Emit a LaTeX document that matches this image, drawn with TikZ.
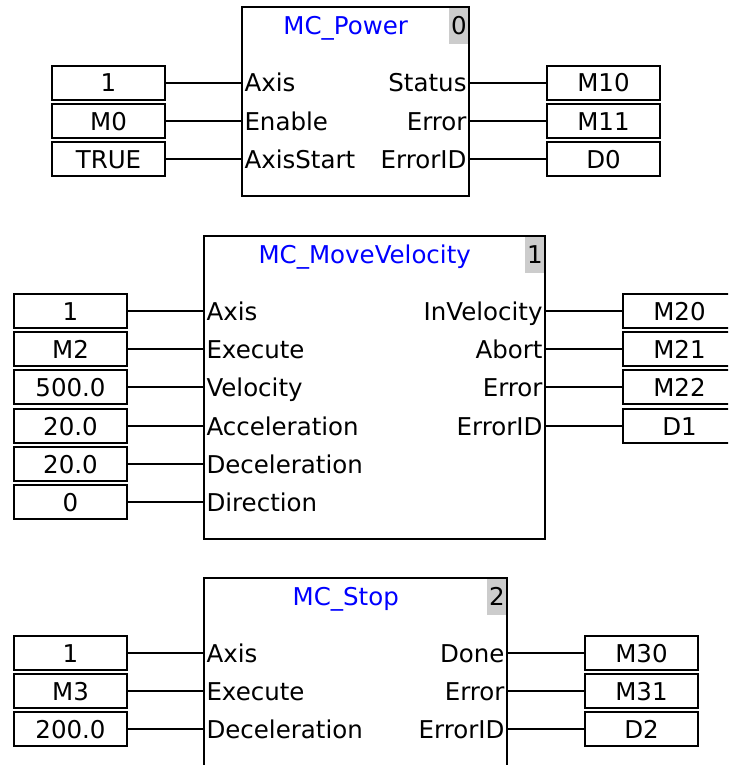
\documentclass[tikz,border=0pt]{standalone}
\usepackage{fontspec}
\setmainfont{DejaVu Sans}
\usetikzlibrary{calc,positioning}
\tikzset{
  fbframe/.style = {draw, line width=1.2pt, inner sep=0pt, outer sep=0pt},
  fbindex/.style = {fill=gray!40, anchor=north east, minimum width=19pt,
                    minimum height=36pt, inner sep=0.5pt, outer sep=0pt,
                    text height=18pt, text depth=0pt},
  fbname/.style  = {text=blue, inner sep=0pt, text height=18pt, text depth=0pt},
  pinin/.style   = {anchor=west, inner xsep=2.5pt, inner ysep=0pt, outer sep=0pt,
                    text height=18pt, text depth=0pt},
  pinout/.style  = {anchor=east, inner xsep=2.5pt, inner ysep=0pt, outer sep=0pt,
                    text height=18pt, text depth=0pt},
  valbox/.style  = {draw, line width=1.2pt, minimum width=113pt, minimum height=34pt,
                    inner sep=0pt, outer sep=0pt, text height=18pt, text depth=0pt},
  wire/.style    = {line width=1.2pt}
}

\begin{document}
\begin{tikzpicture}[x=1pt,y=-1pt,font=\fontsize{24.5}{28}\selectfont]
  \clip (0,0) rectangle (728,765);
  % MC_Power
  \node[fbframe,minimum width=227pt,minimum height=189pt] (pwr) at (355.5,101.5) {};
  \node[fbindex] (pwridx) at ([shift={(-0.6pt,-0.6pt)}]pwr.north east) {0};
  \node[fbname] (pwrname) at ($(pwr.north west)!0.5!(pwridx.south west)$) {MC\_Power};
  \node[pinin] (pwrax) at (242,83) {Axis};
  \node[pinin] (pwren) at (242,121) {Enable};
  \node[pinin] (pwras) at (242,159) {AxisStart};
  \node[pinout] (pwrst) at (469,83) {Status};
  \node[pinout] (pwrer) at (469,121) {Error};
  \node[pinout] (pwrid) at (469,159) {ErrorID};
  \node[valbox,left=77pt of pwrax] (pwrv1) {1};
  \node[valbox,left=77pt of pwren] (pwrv2) {M0};
  \node[valbox,left=77pt of pwras] (pwrv3) {TRUE};
  \node[valbox,right=78pt of pwrst] (pwrv4) {M10};
  \node[valbox,right=78pt of pwrer] (pwrv5) {M11};
  \node[valbox,right=78pt of pwrid] (pwrv6) {D0};
  \draw[wire] (pwrv1) -- (pwrax) (pwrv2) -- (pwren) (pwrv3) -- (pwras);
  \draw[wire] (pwrst) -- (pwrv4) (pwrer) -- (pwrv5) (pwrid) -- (pwrv6);

  % MC_MoveVelocity
  \node[fbframe,minimum width=341pt,minimum height=303pt] (mvel) at (374.5,387.5) {};
  \node[fbindex] (mvelidx) at ([shift={(-0.6pt,-0.6pt)}]mvel.north east) {1};
  \node[fbname] (mvelname) at ($(mvel.north west)!0.5!(mvelidx.south west)$) {MC\_MoveVelocity};
  \node[pinin] (mvelax) at (204,311) {Axis};
  \node[pinin] (mvelex) at (204,349) {Execute};
  \node[pinin] (mvelve) at (204,387) {Velocity};
  \node[pinin] (mvelac) at (204,426) {Acceleration};
  \node[pinin] (mvelde) at (204,464) {Deceleration};
  \node[pinin] (mveldi) at (204,502) {Direction};
  \node[pinout] (mvelin) at (545,311) {InVelocity};
  \node[pinout] (mvelab) at (545,349) {Abort};
  \node[pinout] (mveler) at (545,387) {Error};
  \node[pinout] (mvelid) at (545,426) {ErrorID};
  \node[valbox,left=77pt of mvelax] (mvelv1) {1};
  \node[valbox,left=77pt of mvelex] (mvelv2) {M2};
  \node[valbox,left=77pt of mvelve] (mvelv3) {500.0};
  \node[valbox,left=77pt of mvelac] (mvelv4) {20.0};
  \node[valbox,left=77pt of mvelde] (mvelv5) {20.0};
  \node[valbox,left=77pt of mveldi] (mvelv6) {0};
  \node[valbox,right=78pt of mvelin] (mvelv7) {M20};
  \node[valbox,right=78pt of mvelab] (mvelv8) {M21};
  \node[valbox,right=78pt of mveler] (mvelv9) {M22};
  \node[valbox,right=78pt of mvelid] (mvelv10) {D1};
  \draw[wire] (mvelv1) -- (mvelax) (mvelv2) -- (mvelex) (mvelv3) -- (mvelve)
              (mvelv4) -- (mvelac) (mvelv5) -- (mvelde) (mvelv6) -- (mveldi);
  \draw[wire] (mvelin) -- (mvelv7) (mvelab) -- (mvelv8) (mveler) -- (mvelv9)
              (mvelid) -- (mvelv10);

  % MC_Stop
  \node[fbframe,minimum width=303pt,minimum height=222pt] (stp) at (355.5,689) {};
  \node[fbindex] (stpidx) at ([shift={(-0.6pt,-0.6pt)}]stp.north east) {2};
  \node[fbname] (stpname) at ($(stp.north west)!0.5!(stpidx.south west)$) {MC\_Stop};
  \node[pinin] (stpax) at (204,653) {Axis};
  \node[pinin] (stpex) at (204,691) {Execute};
  \node[pinin] (stpde) at (204,729) {Deceleration};
  \node[pinout] (stpdo) at (507,653) {Done};
  \node[pinout] (stper) at (507,691) {Error};
  \node[pinout] (stpid) at (507,729) {ErrorID};
  \node[valbox,left=77pt of stpax] (stpv1) {1};
  \node[valbox,left=77pt of stpex] (stpv2) {M3};
  \node[valbox,left=77pt of stpde] (stpv3) {200.0};
  \node[valbox,right=78pt of stpdo] (stpv4) {M30};
  \node[valbox,right=78pt of stper] (stpv5) {M31};
  \node[valbox,right=78pt of stpid] (stpv6) {D2};
  \draw[wire] (stpv1) -- (stpax) (stpv2) -- (stpex) (stpv3) -- (stpde);
  \draw[wire] (stpdo) -- (stpv4) (stper) -- (stpv5) (stpid) -- (stpv6);
\end{tikzpicture}
\end{document}
